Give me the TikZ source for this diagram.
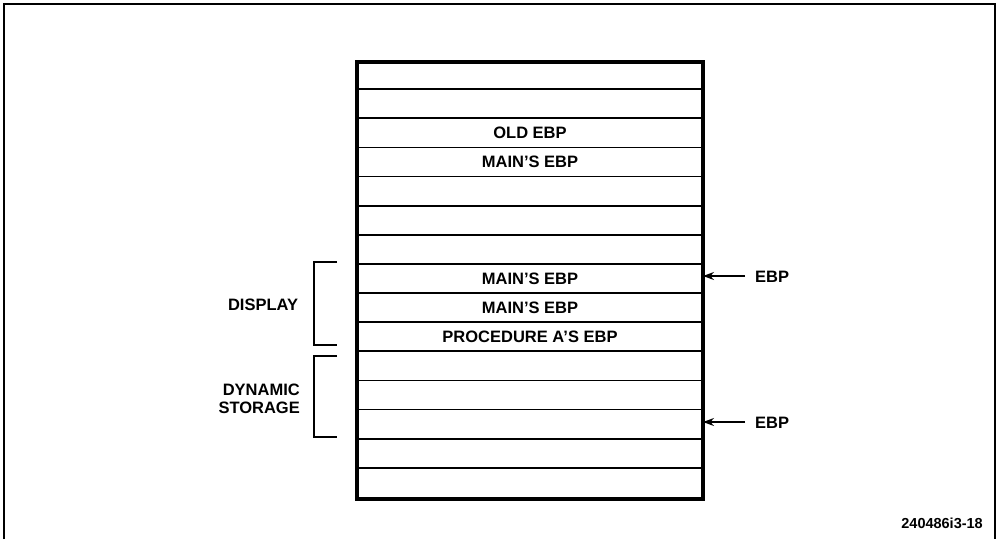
\documentclass[tikz,border=0pt]{standalone}
\usepackage{fontspec}
\setmainfont{Liberation Sans}
\usetikzlibrary{arrows.meta}
\begin{document}
\begin{tikzpicture}[x=1pt,y=-1pt,
  lbl/.style={font=\bfseries\fontsize{16.5}{18}\selectfont, inner sep=0pt},
  rowline/.style={line width=1.7pt},
  brk/.style={line width=1.5pt},
  ptr/.style={line width=1.5pt,-{Stealth[length=11pt,width=8pt]}}]
\useasboundingbox (0,0) rectangle (998,539);
% outer frame (open at bottom)
\draw[line width=2.4pt] (4,539) -- (4,4) -- (995,4) -- (995,539);
% stack rows
\foreach \k in {1,...,14} {
  \draw[rowline] (355,{60+29.13*\k}) -- (701,{60+29.13*\k});
}
\node[draw, line width=3.8pt, minimum width=346pt, minimum height=437pt, inner sep=0pt, anchor=north west] (stack) at (355,60) {};
% texts in rows
\node[lbl] (old) at (530,{60+29.13*2.5}) {OLD EBP};
\node[lbl] (m1) at (530,{60+29.13*3.5}) {MAIN’S EBP};
\node[lbl] (m2) at (530,{60+29.13*7.5}) {MAIN’S EBP};
\node[lbl] (m3) at (530,{60+29.13*8.5}) {MAIN’S EBP};
\node[lbl] (pa) at (530,{60+29.13*9.5}) {PROCEDURE A’S EBP};
% brackets
\draw[brk] (337,262) -- (314,262) -- (314,345) -- (337,345);
\draw[brk] (337,356) -- (314,356) -- (314,437) -- (337,437);
\node[lbl] (disp) at (263,305) {DISPLAY};
\node[lbl, align=right, anchor=east, font=\bfseries\fontsize{16.5}{18}\selectfont] (dyn) at (300,399) {DYNAMIC\\STORAGE};
% EBP pointers
\coordinate (t1) at (703,276);
\coordinate (t2) at (703,422);
\node[lbl, anchor=west] (e1) at (755,277) {EBP};
\node[lbl, anchor=west] (e2) at (755,423) {EBP};
\draw[ptr] (745,276) -- (t1);
\draw[ptr] (745,422) -- (t2);
% figure id
\node[font=\bfseries\fontsize{14.5}{16}\selectfont, inner sep=0pt, anchor=east] (fid) at (983,523) {240486i3-18};
\end{tikzpicture}
\end{document}
